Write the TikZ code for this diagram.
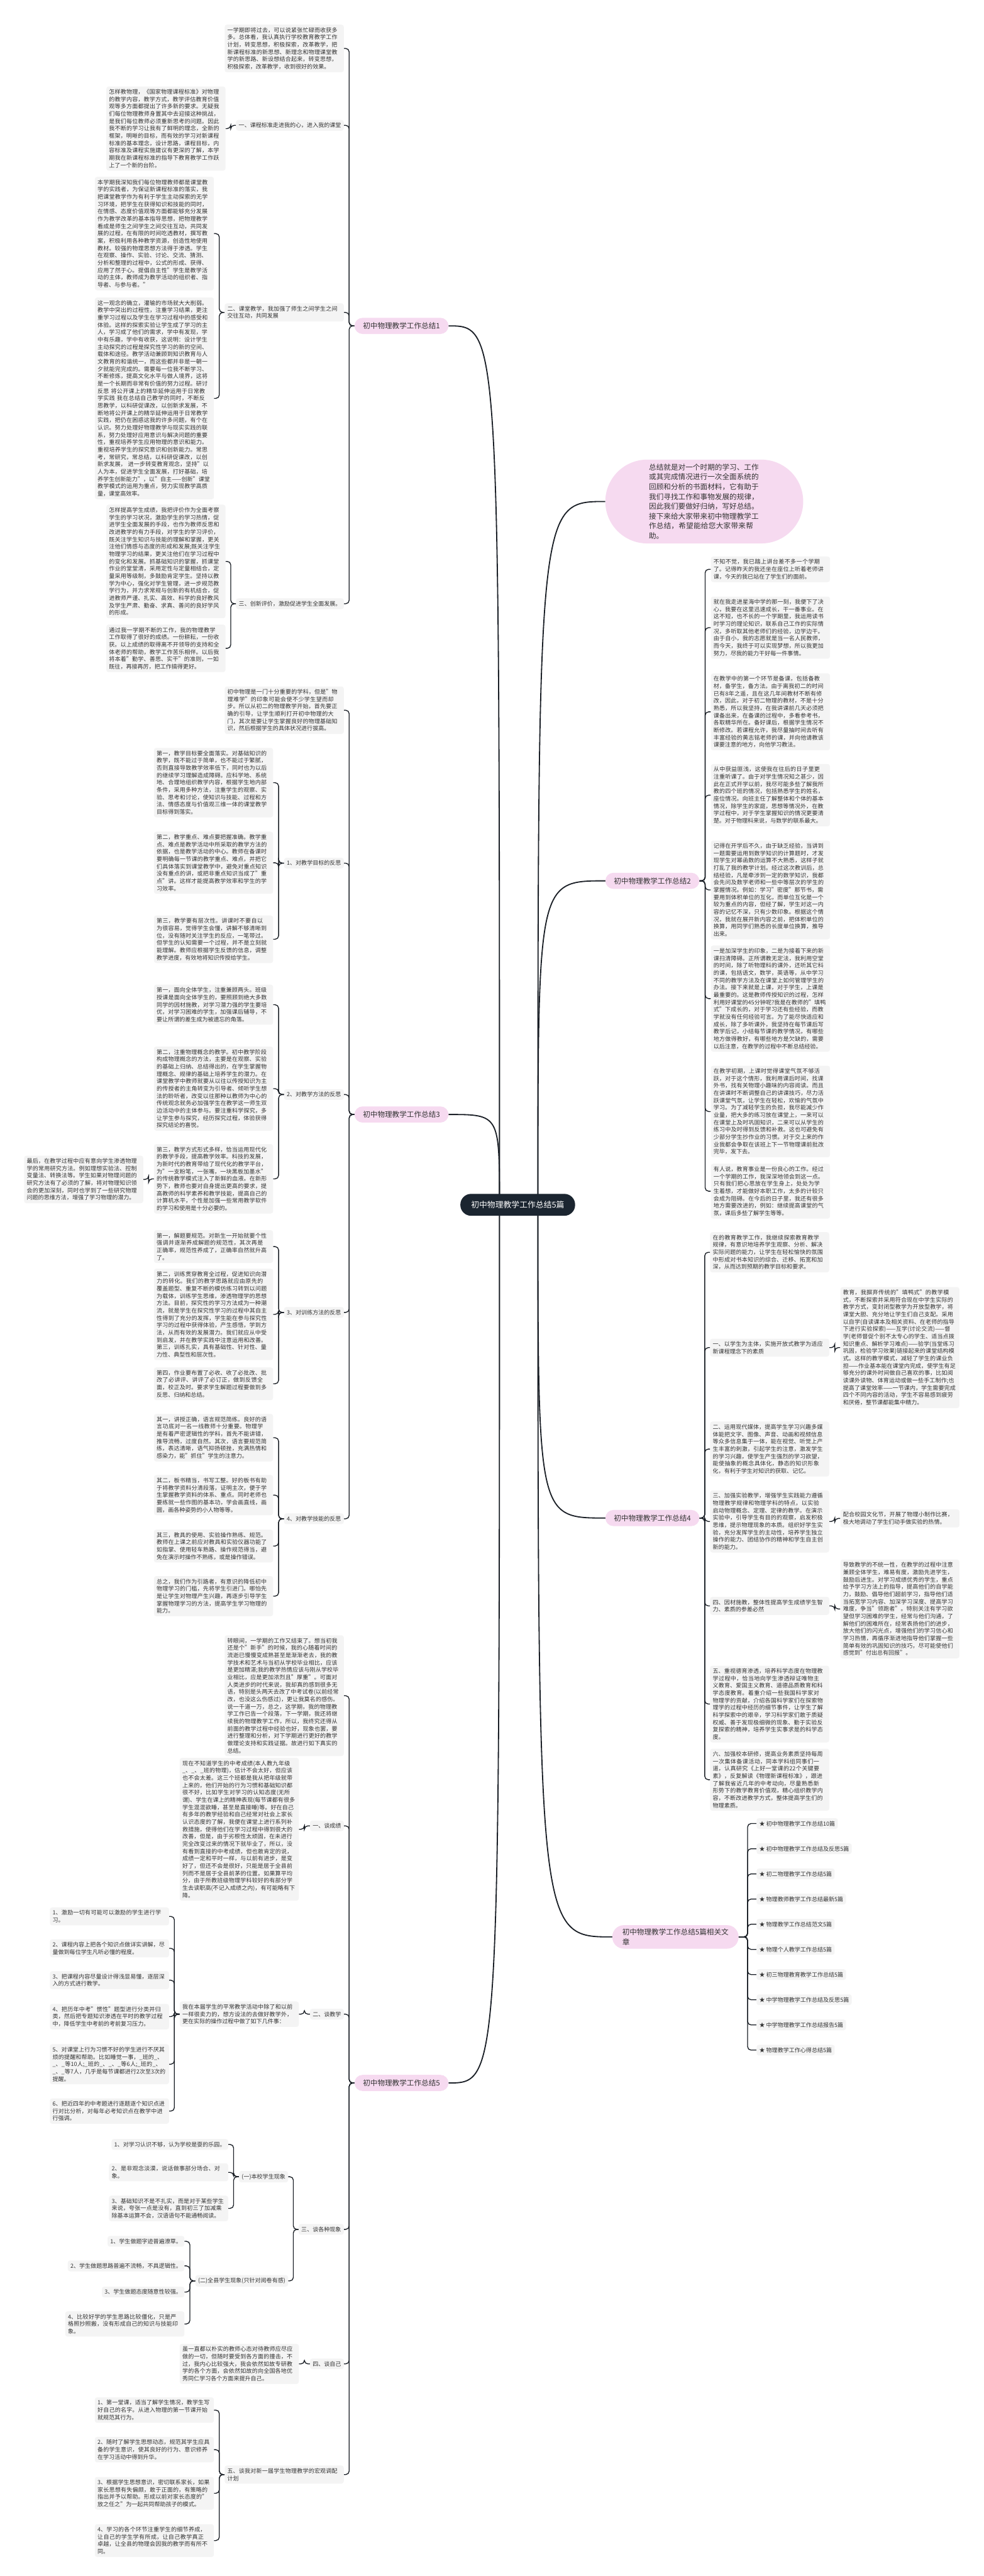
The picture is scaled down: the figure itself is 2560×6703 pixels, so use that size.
\documentclass[tikz,border=0pt]{standalone}
\usepackage{fontspec}
\setmainfont{Noto Sans CJK SC}
\XeTeXlinebreaklocale "zh"
\XeTeXlinebreakskip=0pt plus 1pt
\usetikzlibrary{calc,backgrounds}
\definecolor{leafgray}{HTML}{F4F4F4}
\definecolor{txt}{HTML}{333333}
\definecolor{pinkb}{HTML}{F6DAF0}
\definecolor{rootc}{HTML}{1B2530}
\definecolor{linec}{HTML}{1A1F26}
\newcommand\fleaf{\fontsize{14.8pt}{19.1pt}\selectfont\parindent=0pt}
\newcommand\fbr{\fontsize{19pt}{25.5pt}\selectfont\parindent=0pt}
\newcommand\froot{\fontsize{21pt}{27pt}\selectfont}
\newcommand\connL[2]{\draw[conn] (#1.west) -- ($(#1.west)!0.5!(#2.east |- #1.west)$) |- (#2.east);}
\newcommand\connR[2]{\draw[conn] (#1.east) -- ($(#1.east)!0.5!(#2.west |- #1.east)$) |- (#2.west);}
\tikzset{
  leaf/.style={fill=leafgray, rounded corners=6pt, text width=296pt, align=left, inner xsep=7pt, inner ysep=7pt, font=\fleaf, text=txt},
  leafs/.style={fill=leafgray, rounded corners=6pt, inner xsep=7pt, inner ysep=7pt, font=\fleaf, text=txt},
  branch/.style={fill=pinkb, rounded corners=21pt, minimum height=42pt, inner xsep=22pt, font=\fbr, text=txt},
  relnode/.style={fill=pinkb, rounded corners=30pt, align=left, inner xsep=26pt, inner ysep=9pt, font=\fbr, text=txt},
  summ/.style={fill=pinkb, rounded corners=109pt, minimum height=218pt, minimum width=515pt, text width=288pt, align=left, font=\fbr, text=txt},
  rootnode/.style={fill=rootc, rounded corners=28pt, minimum height=57pt, inner xsep=28pt, font=\froot, text=white},
  conn/.style={draw=linec, line width=2.2pt, rounded corners=9pt},
  mconn/.style={draw=linec, line width=3pt},
}
\begin{document}
\begin{tikzpicture}[x=1pt,y=-1pt]
\useasboundingbox (0,0) rectangle (2560,6703);

% ---------------- root ----------------
\node[rootnode, anchor=west] (root) at (1198,3135) {初中物理教学工作总结5篇};

% ---------------- summary ----------------
\node[summ] (sum) at (1833,1305) {总结就是对一个时期的学习、工作或其完成情况进行一次全面系统的回顾和分析的书面材料，它有助于我们寻找工作和事物发展的规律，因此我们要做好归纳，写好总结。接下来给大家带来初中物理教学工作总结，希望能给您大家带来帮助。};

% ---------------- branch 1 ----------------
\node[branch] (b1) at (1045,848) {初中物理教学工作总结1};
\node[leaf, anchor=north east] (b1a) at (895,64) {一学期即将过去，可以说紧张忙碌而收获多多。总体看，我认真执行学校教育教学工作计划，转变思想，积极探索，改革教学，把新课程标准的新思想、新理念和物理课堂教学的新思路、新设想结合起来，转变思想，积极探索，改革教学，收到很好的效果。};
\node[leafs, anchor=east] (s11) at (895,326) {一、课程标准走进我的心，进入我的课堂};
\node[leaf, anchor=north east] (l111) at (587,225) {怎样教物理，《国家物理课程标准》对物理的教学内容，教学方式，教学评估教育价值观等多方面都提出了许多新的要求。无疑我们每位物理教师身置其中去迎接这种挑战，是我们每位教师必须重新思考的问题。因此我不断的学习让我有了鲜明的理念，全新的框架，明晰的目标，而有效的学习对新课程标准的基本理念，设计思路，课程目标，内容标准及课程实施建议有更深的了解，本学期我在新课程标准的指导下教育教学工作跃上了一个新的台阶。};
\node[leaf, anchor=east] (s12) at (895,813) {二、课堂教学，我加强了师生之间学生之间交往互动，共同发展};
\node[leaf, anchor=north east] (l121) at (557,460) {本学期我深知我们每位物理教师都是课堂教学的实践者，为保证新课程标准的落实，我把课堂教学作为有利于学生主动探索的无学习环境，把学生在获得知识和技能的同时，在情感、态度价值观等方面都能够充分发展作为教学改革的基本指导思想，把物理教学看成是师生之间学生之间交往互动，共同发展的过程，在有限的时间吃透教材，撰写教案，积极利用各种教学资源，创造性地使用教材。较强的物理思想方法得于渗透。学生在观察、操作、实验、讨论、交流、猜测、分析和整理的过程中，公式的形成、获得、应用了然于心。提倡自主性"学生是教学活动的主体，教师成为教学活动的组织者、指导者、与参与者。"};
\node[leaf, anchor=north east] (l122) at (557,774) {这一观念的确立，灌输的市场就大大削弱。教学中突出的过程性，注重学习结果，更注重学习过程以及学生在学习过程中的感受和体验。这样的探索实验让学生成了学习的主人，学习成了他们的需求，学中有发现，学中有乐趣，学中有收获，这说明：设计学生主动探究的过程是探究性学习的新的空间、载体和途径。教学活动兼顾到知识教育与人文教育的和谐统一，而这些都并非是一朝一夕就能完完成的。需要每一位我不断学习、不断修炼，提高文化水平与做人境界，这将是一个长期而非常有价值的努力过程。研讨 反思 将公开课上的精华延伸运用于日常教学实践 我在总结自己教学的同时，不断反思教学，以科研促课改，以创新求发展，不断地将公开课上的精华延伸运用于日常教学实践，把仍在困惑这我的许多问题，有个在认识。努力处理好物理教学与现实实践的联系，努力处理好应用意识与解决问题的重要性，重视培养学生应用物理的意识和能力。重视培养学生的探究意识和创新能力。常思考，常研究，常总结，以科研促课改，以创新求发展， 进一步转变教育观念，坚持"以人为本，促进学生全面发展，打好基础，培养学生创新能力"，以"自主——创新"课堂教学模式的运用为重点，努力实现教学高质量，课堂高效率。};
\node[leafs, anchor=east] (s13) at (895,1571) {三、创新评价，激励促进学生全面发展。};
\node[leaf, anchor=north east] (l131) at (587,1313) {怎样提高学生成绩，我把评价作为全面考察学生的学习状况，激励学生的学习热情，促进学生全面发展的手段，也作为教师反思和改进教学的有力手段，对学生的学习评价，既关注学生知识与技能的理解和掌握，更关注他们情感与态度的形成和发展;既关注学生物理学习的结果，更关注他们在学习过程中的变化和发展。抓基础知识的掌握，抓课堂作业的堂堂清，采用定性与定量相结合，定量采用等级制，多鼓励肯定学生。坚持以教学为中心，强化对学生管理，进一步规范教学行为，并力求常规与创新的有机结合，促进教师严谨、扎实、高效、科学的良好教风及学生严肃、勤奋、求真、善问的良好学风的形成。};
\node[leaf, anchor=north east] (l132) at (587,1625) {通过我一学期不断的工作，我的物理教学工作取得了很好的成绩。一份耕耘，一份收获。以上成绩的取得离不开领导的支持和全体老师的帮助，教学工作苦乐相伴。以后我将本着"勤学、善思、实干"的准则，一如既往，再接再厉，把工作搞得更好。};

% ---------------- branch 2 ----------------
\node[branch] (b2) at (1698,2292) {初中物理教学工作总结2};
\node[leaf, anchor=north west] (l21) at (1850,1448) {不知不觉，我已踏上讲台差不多一个学期了。记得昨天的我还坐在座位上听着老师讲课，今天的我已站在了学生们的面前。};
\node[leaf, anchor=north west] (l22) at (1850,1552) {就在我走进星海中学的那一刻，我便下了决心，我要在这里迅速成长，干一番事业。在这不短，也不长的一个学期里，我运用读书时学习的理论知识，联系自己工作的实际情况，多听取其他老师们的经验，边学边干。由于自小，我的志愿就是当一名人民教师，而今天，我终于可以实现梦想，所以我更加努力，尽我的能力干好每一件事情。};
\node[leaf, anchor=north west] (l23) at (1850,1752) {在教学中的第一个环节是备课，包括备教材，备学生，备方法。由于离我初二的时间已有8年之遥，且在这几年间教材不断有修改，因此，对于初二物理的教材，不是十分熟悉，所以我坚持，在我讲课前几天必须把课备出来，在备课的过程中，多看参考书，各取精华所在。备好课后，根据学生情况不断修改。若课程允许，我尽量抽时间去听有丰富经验的黄志铭老师的课，并向他请教该课要注意的地方，向他学习教法。};
\node[leaf, anchor=north west] (l24) at (1850,1988) {从中获益匪浅，这使我在往后的日子里更注重听课了。由于对学生情况知之甚少，因此在正式开学以前，我尽可能多些了解我所教的四个班的情况，包括熟悉学生的姓名，座位情况。向班主任了解整体和个体的基本情况，除学生的家庭，思想等情况外，在教学过程中，对于学生掌握知识的情况更要清楚。对于物理科来说，与数学的联系最大。};
\node[leaf, anchor=north west] (l25) at (1850,2187) {记得在开学后不久，由于缺乏经验，当讲到一题需要运用到数学知识的计算题时，才发现学生对幂函数的运算不大熟悉，这样子就打乱了我的教学计划。经过这次教训后，总结经验，凡是牵涉到一定的数学知识，我都会先问及数学老师和一些中等层次的学生的掌握情况。例如：学习"密度"那节书，需要用到体积单位的互化，而单位互化是一个较为重点的内容，但经了解，学生对这一内容的记忆不深，只有少数印象。根据这个情况，我就在展开新内容之前，把体积单位的换算，用同学们熟悉的长度单位换算，推导出来。};
\node[leaf, anchor=north west] (l26) at (1850,2460) {一是加深学生的印象，二是为接着下来的新课扫清障碍。正所谓教无定法，我利用空堂的时间，除了听物理科的课外，还听其它科的课，包括语文，数学，英语等，从中学习不同的教学方法及在课堂上如何管理学生的办法。接下来就是上课，对于学生，上课是最重要的。这是教师传授知识的过程，怎样利用好课堂的45分钟呢?我是在教师的"填鸭式"下成长的，对于学习还有些经验，而教学就没有任何经验可言。为了能尽快适应和成长，除了多听课外，我坚持在每节课后写教学后记，小结每节课的教学情况，有哪些地方做得教好，有哪些地方是欠缺的，需要以后注意，在教学的过程中不断总结经验。};
\node[leaf, anchor=north west] (l27) at (1850,2773) {在教学初期，上课时觉得课堂气氛不够活跃，对于这个情形，我利用课后时间，找课外书，找有关物理小趣味的内容阅读。而且在讲课时不断调整自己的讲课技巧，尽力活跃课堂气氛，让学生在轻松，欢愉的气氛中学习。为了减轻学生的负担，我尽能减少作业量，把大多的练习放在课堂上，一来可以在课堂上及时巩固知识，二来可以从学生的练习中及时得到反馈和补救。这也可避免有少部分学生抄作业的习惯。对于交上来的作业我都会争取在该班上下一节物理课前批改完毕，发下去。};
\node[leaf, anchor=north west] (l28) at (1850,3028) {有人说，教育事业是一份良心的工作。经过一个学期的工作，我深深地领会到这一点。只有我们把心思放在学生身上，处处为学生着想，才能做好本职工作，太多的计较只会成为阻碍。在今后的日子里，我还有很多地方需要改进的，例如：继续提高课堂的气氛，课后多些了解学生等等。};

% ---------------- branch 3 ----------------
\node[branch] (b3) at (1045,2900) {初中物理教学工作总结3};
\node[leaf, anchor=north east] (b3a) at (895,1786) {初中物理是一门十分重要的学科，但是"物理难学"的印象可能会使不少学生望而却步。所以从初二的物理教学开始，首先要正确的引导，让学生顺利打开初中物理的大门，其次是要让学生掌握良好的物理基础知识，然后根据学生的具体状况进行拔高。};
\node[leafs, anchor=east] (s31) at (895,2246) {1、对教学目标的反思};
\node[leaf, anchor=north east] (l311) at (711,1946) {第一，教学目标要全面落实。对基础知识的教学，既不能过于简单，也不能过于繁腻，否则直接导致教学效率低下，同时也为以后的继续学习理解造成障碍。应科学地、系统地、合理地组织教学内容，根据学生地内部条件，采用多种方法，注重学生的观察、实验、思考和讨论，使知识与技能、过程和方法、情感态度与价值观三维一体的课堂教学目标得到落实。};
\node[leaf, anchor=north east] (l312) at (711,2164) {第二，教学重点、难点要把握准确。教学重点、难点是教学活动中所采取的教学方法的依据，也是教学活动的中心。教师在备课时要明确每一节课的教学重点、难点，并把它们具体落实到课堂教学中，避免对重点知识没有重点的讲，或把非重点知识当成了"重点"讲。这样才能提高教学效率和学生的学习效率。};
\node[leaf, anchor=north east] (l313) at (711,2382) {第三，教学要有层次性。讲课时不要自以为很容易，觉得学生会懂，讲解不够清晰到位，没有随时关注学生的反应，一笔带过。但学生的认知需要一个过程，并不是立刻就能理解。教师应根据学生反馈的信息，调整教学进度，有效地将知识传授给学生。};
\node[leafs, anchor=east] (s32) at (895,2848) {2、对教学方法的反思};
\node[leaf, anchor=north east] (l321) at (711,2562) {第一，面向全体学生，注重兼顾两头。班级授课是面向全体学生的，要照顾到绝大多数同学的因材施教，对学习潜力强的学生要培优，对学习困难的学生，加强课后辅导，不要让所谓的差生成为被遗忘的角落。};
\node[leaf, anchor=north east] (l322) at (711,2723) {第二，注重物理概念的教学。初中教学阶段构成物理概念的方法，主要是在观察、实验的基础上归纳、总结得出的，在学生掌握物理概念、规律的基础上培养学生的潜力。在课堂教学中教师就要从以往以传授知识为主的传授者的主角转变为引导者、倾听学生想法的聆听者，改变以往那种以教师为中心的传统观念就务必加强学生在教学这一师生双边活动中的主体参与。要注重科学探究，多让学生参与探究，经历探究过程，体验获得探究结论的喜悦。};
\node[leaf, anchor=north east] (l323) at (711,2977) {第三，教学方式形式多样，恰当运用现代化的教学手段，提高教学效率。科技的发展，为新时代的教育带给了现代化的教学平台，为"一支粉笔，一张嘴，一块黑板加墨水"的传统教学模式注入了新鲜的血液。在新形势下，教师也要对自身提出更高的要求，提高教师的科学素养和教学技能，提高自己的计算机水平，个性是加强一些常用教学软件的学习和使用是十分必要的。};
\node[leaf, anchor=north east] (l3231) at (373,3007) {最后，在教学过程中应有意向学生渗透物理学的常用研究方法。例如理想实验法、控制变量法、转换法等。学生如果对物理问题的研究方法有了必须的了解，将对物理知识领会的更加深刻，同时也学到了一些研究物理问题的思维方法，增强了学习物理的潜力。};
\node[leafs, anchor=east] (s33) at (895,3415) {3、对训练方法的反思};
\node[leaf, anchor=north east] (l331) at (711,3201) {第一，解题要规范。对新生一开始就要个性强调并逐渐养成解题的规范性，其次再是正确率，规范性养成了，正确率自然就升高了。};
\node[leaf, anchor=north east] (l332) at (711,3301) {第二，训练贯穿教育全过程，促进知识向潜力的转化。我们的教学思路就应由原先的覆盖题型、重复不断的模仿练习转到以问题为载体，训练学生思维，渗透物理学的思想方法。目前，探究性的学习方法成为一种潮流，就是学生在探究性学习的过程中其自主性得到了充分的发挥，学生能在参与探究性学习的过程中获得体验，产生感悟，学到方法，从而有效的发展潜力。我们就应从中受到启发，并在教学实践中注意运用和改善。第三，训练扎实，具有基础性、针对性、量力性、典型性和层次性。};
\node[leaf, anchor=north east] (l333) at (711,3558) {第四，作业要布置了必收、收了必批改、批改了必讲评、讲评了必订正，做到反馈全面，校正及时。要求学生解题过程要做到多反思、归纳和总结。};
\node[leafs, anchor=east] (s34) at (895,3952) {4、对教学技能的反思};
\node[leaf, anchor=north east] (l341) at (711,3679) {其一，讲授正确，语言规范简练。良好的语言功底对一名一线教师十分重要。物理学是有着严密逻辑性的学科，首先不能讲错，推导流畅，过度自然。其次，语言要规范简练，表达清晰，语气抑扬顿挫，充满热情和感染力，能"抓住"学生的注意力。};
\node[leaf, anchor=north east] (l342) at (711,3838) {其二，板书精当，书写工整。好的板书有助于将教学资料分清段落，证明主次，便于学生掌握教学资料的体系、重点。同时老师也要练就一些作图的基本功，学会画直线，画圆，画各种姿势的小人物等等。};
\node[leaf, anchor=north east] (l343) at (711,3980) {其三，教具的使用、实验操作熟练、规范。教师在上课之前应对教具和实验仪器功能了如指掌、使用轻车熟路、操作规范得当，避免在演示时操作不熟练，或是操作错误。};
\node[leaf, anchor=north east] (l344) at (711,4101) {总之，我们作为引路者，有意识的降低初中物理学习的门槛，先将学生引进门。哪怕先是让学生对物理产生兴趣，再逐步引导学生掌握物理学习的方法，提高学生学习物理的能力。};

% ---------------- branch 4 ----------------
\node[branch] (b4) at (1698,3950) {初中物理教学工作总结4};
\node[leaf, anchor=north west] (l41) at (1848,3206) {在的教育教学工作，我继续探索教育教学规律，有意识地培养学生观察、分析、解决实际问题的能力，让学生在轻松愉快的氛围中形成对书本知识的综合、迁移、拓宽和加深，从而达到预期的教学目标和要求。};
\node[leaf, anchor=north west] (s42) at (1848,3483) {一、以学生为主体，实施开放式教学为适应新课程理念下的素质};
\node[leaf, anchor=north west] (l421) at (2187,3349) {教育，我摒弃传统的"填鸭式"的教学模式，不断探索并采用符合现在中学生实际的教学方式，变封闭型教学为开放型教学，将课堂大胆、充分地让学生们自己支配。采用以自学(自读课本及相关资料、在老师的指导下进行实验探索)——互学(讨论交流)——督学(老师督促个别不太专心的学生、适当点拨知识重点、解析学习难点)——验学(当堂练习巩固，检验学习效果)链接起来的课堂结构模式。这样的教学模式，减轻了学生的课业负担——作业基本能在课堂内完成，使学生有足够充分的课外时间做自己喜欢的事，比如阅读课外读物、体育运动或做一些手工制作;也提高了课堂效率——一节课内，学生需要完成四个不同内容的活动，学生不容易感到疲劳和厌倦，整节课都能集中精力。};
\node[leaf, anchor=north west] (l43) at (1848,3699) {二、运用现代媒体，提高学生学习兴趣多媒体能把文字、图像、声音、动画和视频信息等众多信息集于一体，能在视觉、听觉上产生丰富的刺激，引起学生的注意，激发学生的学习兴趣，使学生产生强烈的学习欲望，能使抽象的概念具体化，静态的知识形象化，有利于学生对知识的获取、记忆。};
\node[leaf, anchor=north west] (s44) at (1848,3878) {三、加强实验教学，增强学生实践能力遵循物理教学规律和物理学科的特点，以实验启动物理概念、定理、定律的教学。在演示实验中，引导学生有目的的观察，启发积极思维，提示物理现象的本质。组织好学生实验，充分发挥学生的主动性，培养学生独立操作的能力、团结协作的精神和学生自主创新的能力。};
\node[leaf, anchor=west] (l441) at (2187,3951) {配合校园文化节，开展了物理小制作比赛，极大地调动了学生们动手做实验的热情。};
\node[leaf, anchor=north west] (s45) at (1848,4155) {四、因材施教，整体性提高学生成绩学生智力、素质的参差必然};
\node[leaf, anchor=north west] (l451) at (2187,4058) {导致教学的不统一性，在教学的过程中注意兼顾全体学生，难易有度，激励先进学生，鼓励后进生。对学习成绩优秀的学生，重点给予学习方法上的指导，提高他们的自学能力，鼓励、倡导他们超前学习，指导他们适当拓宽学习内容、加深学习深度、提高学习难度，争当"领跑者"。特别关注有学习欲望但学习困难的学生，经常与他们沟通，了解他们的困难所在，经常表扬他们的进步，放大他们的闪光点，增强他们的学习信心和学习热情，再循序渐进地指导他们掌握一些简单有效的巩固知识的技巧，尽可能使他们感觉到"付出总有回报"。};
\node[leaf, anchor=north west] (l46) at (1848,4334) {五、重视德育渗透，培养科学态度在物理教学过程中，恰当地向学生渗透辩证唯物主义教育、爱国主义教育、道德品质教育和科学态度教育。着重介绍一些我国科学家对物理学的贡献，介绍各国科学家们在探索物理学的过程中经历的细节事件，让学生了解科学探索中的艰辛，学习科学家们敢于质疑权威、善于发现极细微的现象、勤于实验反复探索的精神，培养学生实事求是的科学态度。};
\node[leaf, anchor=north west] (l47) at (1848,4550) {六、加强校本研修，提高业务素质坚持每周一次集体备课活动，同本学科组同事们一道，认真研究《上好一堂课的22个关键要素》，反复解读《物理新课程标准》，跟进了解我省近几年的中考动向，尽量熟悉新形势下的教学教育价值观，精心组织教学内容，不断改进教学方式，整体提高学生们的物理素质。};

% ---------------- related ----------------
\node[relnode] (rel) at (1758,5040) {初中物理教学工作总结5篇相关文\\章};
\node[leafs, anchor=west] (r1) at (1969,4745) {★ 初中物理教学工作总结10篇};
\node[leafs, anchor=west] (r2) at (1969,4810.5) {★ 初中物理教学工作总结及反思5篇};
\node[leafs, anchor=west] (r3) at (1969,4876) {★ 初二物理教学工作总结5篇};
\node[leafs, anchor=west] (r4) at (1969,4941.5) {★ 物理教师教学工作总结最新5篇};
\node[leafs, anchor=west] (r5) at (1969,5007) {★ 物理教学工作总结范文5篇};
\node[leafs, anchor=west] (r6) at (1969,5072.5) {★ 物理个人教学工作总结5篇};
\node[leafs, anchor=west] (r7) at (1969,5138) {★ 初三物理教育教学工作总结5篇};
\node[leafs, anchor=west] (r8) at (1969,5203.5) {★ 中学物理教学工作总结及反思5篇};
\node[leafs, anchor=west] (r9) at (1969,5269) {★ 中学物理教学工作总结报告5篇};
\node[leafs, anchor=west] (r10) at (1969,5334.5) {★ 物理教学工作心得总结5篇};

% ---------------- branch 5 ----------------
\node[branch] (b5) at (1045,5420) {初中物理教学工作总结5};
\node[leaf, anchor=north east] (l51) at (895,4255) {转眼间，一学期的工作又结束了。想当初我还是个"新手"的时候，我的心随着时间的流逝已慢慢变成熟甚至是渐渐老去，我的教学技术和艺术与当初从学校毕业相比，应该是更加精湛;我的教学热情应该与刚从学校毕业相比，应是更加浓烈且"厚重"。可面对人类进步的时代来说，我却真的感到很多无语，特别是头两天去改了中考试卷(以前经常改，也没这么伤感过)，更让我莫名的感伤。说一千道一万，总之，这学期，我的物理教学工作已告一个段落，下一学期，我还将继续我的物理教学工作，所以，我终究还得从前面的教学过程中经验也好，现象也罢，要进行整理和分析，对下学期进行更好的教学做理论支持和实践证据。故进行如下真实的总结。};
\node[leafs, anchor=east] (s52) at (895,4751) {一、谈成绩};
\node[leaf, anchor=north east] (l521) at (778,4574) {现在不知道学生的中考成绩(本人教九年级\_、\_、\_班的物理)，估计不会太好，但应该也不会太差。这三个班都是我从把年级就带上来的，他们开始的行为习惯和基础知识都很不好，比如学生对学习的认知态度(无所谓)、学生在课上的精神表现(每节课都有很多学生混混欲睡，甚至是直接睡)等。好在自己有多年的教学经验和自己经常对社会上家长认识态度的了解，我便在课堂上进行系列补救措施，使得他们在学习过程中得到很大的改善，但是，由于劣根性太顽固，在未进行完全改变过来的情况下就毕业了，所以，没有看到直接的中考成绩，但也敢肯定的说，成绩一定和平时一样，与以前有进步，是变好了，但还不会是很好，只能是居于全县前列而不是居于全县前茅的位置。如果算平均分，由于所教班级物理学科较好的有部分学生去读职高(不记入成绩之内)，有可能略有下降。};
\node[leafs, anchor=east] (s53) at (895,5241) {二、谈教学};
\node[leaf, anchor=east] (l530) at (778,5241) {我在本届学生的平常教学活动中除了和以前一样很卖力的，想方设法的去做好教学外，更在实际的操作过程中做了如下几件事：};
\node[leaf, anchor=north east] (t1) at (440,4963) {1、激励一切有可能可以激励的学生进行学习。};
\node[leaf, anchor=north east] (t2) at (440,5046) {2、课程内容上把各个知识点做详实讲解，尽量做到每位学生凡听必懂的程度。};
\node[leaf, anchor=north east] (t3) at (440,5129) {3、把课程内容尽量设计得浅显易懂，逐层深入的方式进行教学。};
\node[leaf, anchor=north east] (t4) at (440,5214) {4、把历年中考"惯性"题型进行分类并归类，然后把专题知识渗透在平时的教学过程中，降低学生中考前的考前复习压力。};
\node[leaf, anchor=north east] (t5) at (440,5319) {5、对课堂上行为习惯不好的学生进行不厌其烦的提醒和帮助。比如睡觉一事，\_班的\_、\_、\_等10人;\_班的\_、\_、\_等6人;\_班的\_、\_、\_等7人，几乎是每节课都进行2次至3次的提醒。};
\node[leaf, anchor=north east] (t6) at (440,5460) {6、把近四年的中考题进行逐题逐个知识点进行对比分析，对每年必考知识点在教学中进行强调。};
\node[leafs, anchor=east] (s54) at (895,5801) {三、谈各种现象};
\node[leafs, anchor=east] (s541) at (750,5664) {(一)本校学生现象};
\node[leafs, anchor=east] (u1) at (594,5580) {1、对学习认识不够，认为学校是耍的乐园。};
\node[leaf, anchor=north east] (u2) at (594,5629) {2、是非观念淡漠，说话做事部分场合、对象。};
\node[leaf, anchor=north east] (u3) at (594,5713) {3、基础知识不是不扎实，而是对于某些学生来说，夸张一点是没有，直到初三了加减乘除基本运算不会，汉语语句不能通畅阅读。};
\node[leafs, anchor=east] (s542) at (750,5935) {(二)全县学生现象(只针对阅卷有感)};
\node[leafs, anchor=east] (v1) at (480,5832) {1、学生做题字迹普遍潦草。};
\node[leafs, anchor=east] (v2) at (480,5896) {2、学生做题思路普遍不流畅，不具逻辑性。};
\node[leafs, anchor=east] (v3) at (480,5964) {3、学生做题态度随意性较强。};
\node[leaf, anchor=north east] (v4) at (480,6014) {4、比较好学的学生思路比较僵化，只是严格照抄照搬，没有形成自己的知识与技能印象。};
\node[leafs, anchor=east] (s55) at (895,6151) {四、谈自己};
\node[leaf, anchor=east] (l551) at (778,6151) {虽一直都以朴实的教师心态对待教师应尽应做的一切，但随时要受到各方面的撞击，不过，我内心比较强大，我会依然如故专研教学的各个方面，会依然如故的向全国各地优秀同仁学习各个方面来提升自己。};
\node[leaf, anchor=east] (s56) at (895,6439) {五、谈我对新一届学生物理教学的宏观调配计划};
\node[leaf, anchor=north east] (w1) at (557,6238) {1、第一堂课，适当了解学生情况，教学生写好自己的名字。从进入物理的第一节课开始就规范其行为。};
\node[leaf, anchor=north east] (w2) at (557,6341) {2、随时了解学生思想动态，规范其学生应具备的学生意识，使其良好的行为、意识修养在学习活动中得到升华。};
\node[leaf, anchor=north east] (w3) at (557,6445) {3、根据学生思想意识，密切联系家长，如果家长思想有失偏颇，敢于正面的，有策略的指出并予以帮助。形成以前对家长态度的"放之任之"为一起共同帮助孩子的模式。};
\node[leaf, anchor=north east] (w4) at (557,6568) {4、学习的各个环节注重学生的细节养成，让自己的学生学有所成，让自己教学真正卓越，让全县的物理会因我的教学而有所不同。};

% ---------------- connectors ----------------
\begin{scope}[on background layer]
\fill[white] (0,0) rectangle (2560,6703);
% root
\draw[mconn] (1300,3135) .. controls (1300,848) .. (b1.east);
\draw[mconn] (1300,3135) .. controls (1300,2900) .. (b3.east);
\draw[mconn] (1300,3135) .. controls (1300,5420) .. (b5.east);
\draw[mconn] (1400,3135) .. controls (1400,1305) .. (sum.west);
\draw[mconn] (1400,3135) .. controls (1400,2292) .. (b2.west);
\draw[mconn] (1400,3135) .. controls (1400,3950) .. (b4.west);
\draw[mconn] (1400,3135) .. controls (1400,5040) .. (rel.west);
% b1
\connL{b1}{b1a} \connL{b1}{s11} \connL{b1}{s12} \connL{b1}{s13}
\connL{s11}{l111} \connL{s12}{l121} \connL{s12}{l122} \connL{s13}{l131} \connL{s13}{l132}
% b2
\connR{b2}{l21} \connR{b2}{l22} \connR{b2}{l23} \connR{b2}{l24}
\connR{b2}{l25} \connR{b2}{l26} \connR{b2}{l27} \connR{b2}{l28}
% b3
\connL{b3}{b3a} \connL{b3}{s31} \connL{b3}{s32} \connL{b3}{s33} \connL{b3}{s34}
\connL{s31}{l311} \connL{s31}{l312} \connL{s31}{l313}
\connL{s32}{l321} \connL{s32}{l322} \connL{s32}{l323} \connL{l323}{l3231}
\connL{s33}{l331} \connL{s33}{l332} \connL{s33}{l333}
\connL{s34}{l341} \connL{s34}{l342} \connL{s34}{l343} \connL{s34}{l344}
% b4
\connR{b4}{l41} \connR{b4}{s42} \connR{b4}{l43} \connR{b4}{s44} \connR{b4}{s45} \connR{b4}{l46} \connR{b4}{l47}
\connR{s42}{l421} \connR{s44}{l441} \connR{s45}{l451}
% related
\connR{rel}{r1} \connR{rel}{r2} \connR{rel}{r3} \connR{rel}{r4} \connR{rel}{r5}
\connR{rel}{r6} \connR{rel}{r7} \connR{rel}{r8} \connR{rel}{r9} \connR{rel}{r10}
% b5
\connL{b5}{l51} \connL{b5}{s52} \connL{b5}{s53} \connL{b5}{s54} \connL{b5}{s55} \connL{b5}{s56}
\connL{s52}{l521} \connL{s53}{l530}
\connL{l530}{t1} \connL{l530}{t2} \connL{l530}{t3} \connL{l530}{t4} \connL{l530}{t5} \connL{l530}{t6}
\connL{s54}{s541} \connL{s54}{s542}
\connL{s541}{u1} \connL{s541}{u2} \connL{s541}{u3}
\connL{s542}{v1} \connL{s542}{v2} \connL{s542}{v3} \connL{s542}{v4}
\connL{s55}{l551}
\connL{s56}{w1} \connL{s56}{w2} \connL{s56}{w3} \connL{s56}{w4}
\end{scope}
\end{tikzpicture}
\end{document}
